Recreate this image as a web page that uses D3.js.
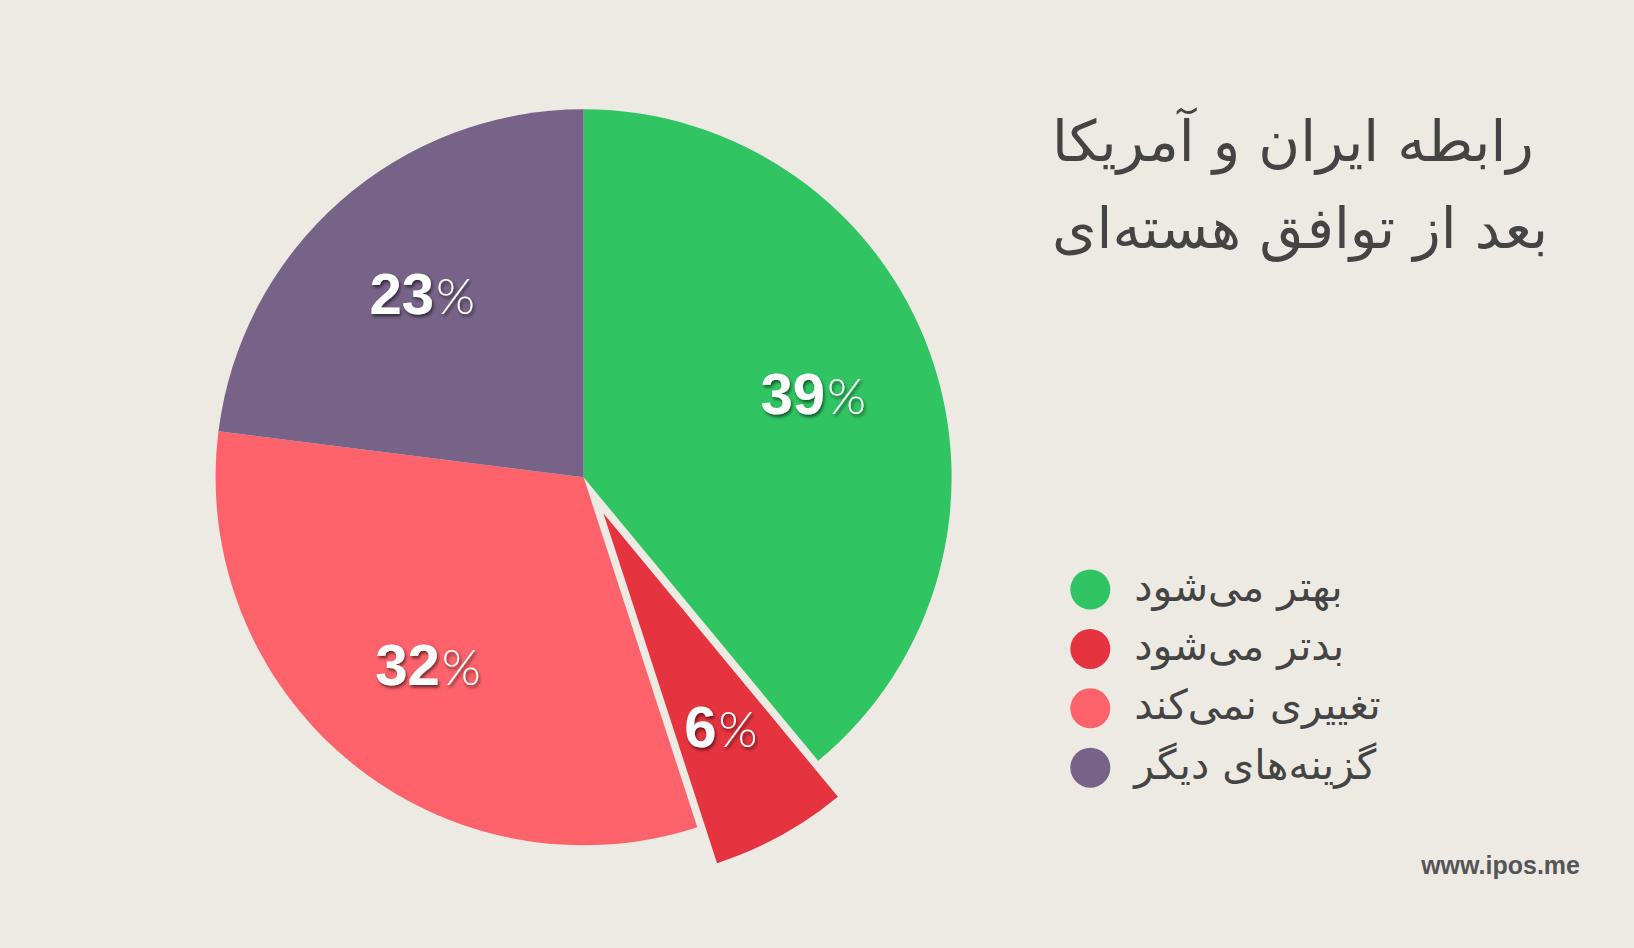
<!DOCTYPE html>
<html><head><meta charset="utf-8">
<script src="https://cdn.jsdelivr.net/npm/d3@7"></script>
<style>
html,body{margin:0;padding:0;background:#EDEAE3;}
svg{display:block;}
</style></head>
<body>
<svg id="chart" width="1634" height="948"></svg>
<script>
const categories = ["بهتر می‌شود", "بدتر می‌شود", "تغییری نمی‌کند", "گزینه‌های دیگر"];
const values = [39, 6, 32, 23];
const colors = ["#31C462", "#E5333F", "#FE626A", "#766387"];
const exploded = [false, true, false, false];
const titleLines = ["رابطه ایران و آمریکا", "بعد از توافق هسته‌ای"];
const sourceText = "www.ipos.me";

const svg = d3.select("#chart");
svg.append("rect").attr("width",1634).attr("height",948).attr("fill","#EDEAE3");

const defs = svg.append("defs");
const f = defs.append("filter").attr("id","shadow").attr("x","-20%").attr("y","-20%").attr("width","140%").attr("height","140%");
f.append("feDropShadow").attr("dx",1.5).attr("dy",2.5).attr("stdDeviation",1.8)
  .attr("flood-color","#000").attr("flood-opacity",0.55);

const cx = 583.6, cy = 477.3, R = 368, explodeDist = 41, labelR = 244;
const pie = d3.pie().sort(null).value(d => d);
const arcs = pie(values);
const arc = d3.arc().innerRadius(0).outerRadius(R);

const g = svg.append("g").attr("transform", `translate(${cx},${cy})`);
const offset = (d,i) => {
  if (!exploded[i]) return [0,0];
  const a = (d.startAngle + d.endAngle)/2;
  return [Math.sin(a)*explodeDist, -Math.cos(a)*explodeDist];
};
g.selectAll("path.slice").data(arcs).join("path")
  .attr("class","slice")
  .attr("d", arc)
  .attr("fill", (d,i) => colors[i])
  .attr("transform", (d,i) => `translate(${offset(d,i)})`);

const labelArc = d3.arc().innerRadius(labelR).outerRadius(labelR);
const lbl = g.selectAll("text.pct").data(arcs).join("text")
  .attr("class","pct")
  .attr("transform", (d,i) => {
    const c = labelArc.centroid(d); const o = offset(d,i);
    return `translate(${c[0]+o[0]},${c[1]+o[1]+14})`;
  })
  .attr("text-anchor","middle")
  .attr("dy","0.36em")
  .attr("fill","#fff")
  .attr("filter","url(#shadow)")
  .style("font-family","'Liberation Sans', Arial, sans-serif");
lbl.append("tspan").attr("font-weight","bold").attr("font-size",58).text(d => d.data);
lbl.append("tspan").attr("font-weight","300").attr("font-size",50).attr("dx",2)
  .style("font-family","Lato, 'Open Sans', sans-serif").text("%");

// title
svg.append("g").selectAll("text").data(titleLines).join("text")
  .attr("x", 1052).attr("y", (d,i) => 161 + i*87)
  .attr("text-anchor","start")
  .attr("fill","#444444")
  .attr("font-size",57)
  .style("font-family","'DejaVu Sans', sans-serif")
  .text(d => d);

// legend
const leg = svg.append("g").selectAll("g").data(categories).join("g")
  .attr("transform",(d,i)=>`translate(1090.3,${589.5 + i*59.4})`);
leg.append("circle").attr("r",20).attr("fill",(d,i)=>colors[i]);
leg.append("text").attr("x",44).attr("y",11)
  .attr("text-anchor","start").attr("fill","#444444").attr("font-size",41)
  .style("font-family","'DejaVu Sans', sans-serif")
  .text(d=>d);

svg.append("text").attr("x",1580).attr("y",874).attr("text-anchor","end")
  .attr("fill","#555555").attr("font-size",25).attr("font-weight","bold")
  .style("font-family","'Liberation Sans', Arial, sans-serif")
  .text(sourceText);
</script>
</body></html>
